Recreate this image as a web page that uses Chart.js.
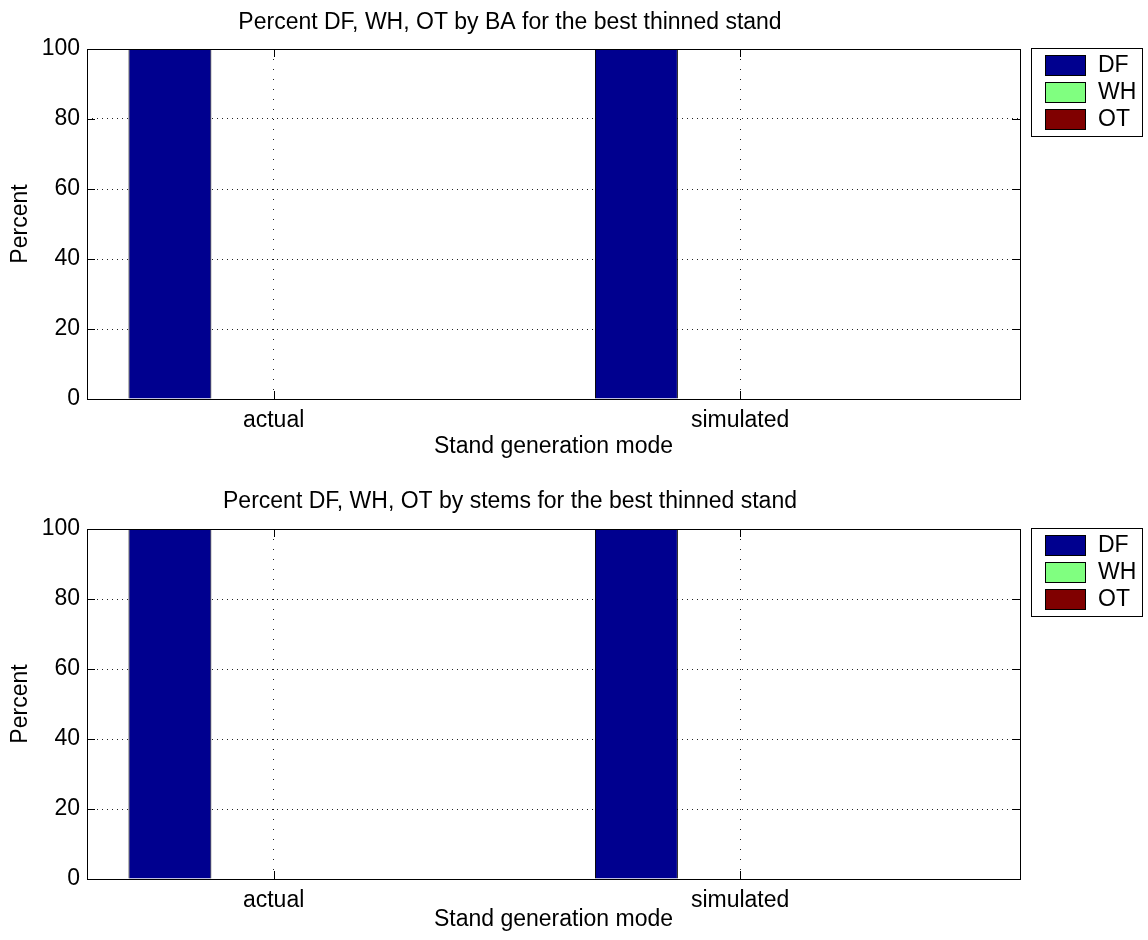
<!DOCTYPE html>
<html>
<head>
<meta charset="utf-8">
<script src="https://cdn.jsdelivr.net/npm/chart.js@4.4.0/dist/chart.umd.min.js"></script>
<style>
  html, body { margin: 0; padding: 0; background: #fff; overflow: hidden; }
  canvas { position: absolute; left: 0; }
  #chartBA { top: 0; }
  #chartStems { top: 470px; }
</style>
</head>
<body>
<canvas id="chartBA" width="1148" height="470"></canvas>
<canvas id="chartStems" width="1148" height="470"></canvas>
<script>
const categories = ['actual', 'simulated'];
const categoryX = [1, 2];
const species = ['DF', 'WH', 'OT'];
const baDF = [100, 100];
const baWH = [0, 0];
const baOT = [0, 0];
const stemsDF = [100, 100];
const stemsWH = [0, 0];
const stemsOT = [0, 0];
const yTicks = [0, 20, 40, 60, 80, 100];

const colors = ['#00008f', '#80ff80', '#800000'];
const fontFamily = '"Liberation Sans", Arial, Helvetica, sans-serif';
const fontSize = 23;

function points(values) {
  return values.map((v, i) => ({x: categoryX[i], y: v}));
}

// matlab look: box around the axes, ticks pointing inwards, boxed legend on the right
const matlabFrame = {
  id: 'matlabFrame',
  afterDatasetsDraw(chart) {
    const {ctx, chartArea: a, scales} = chart;
    ctx.save();
    ctx.strokeStyle = '#000';
    ctx.lineWidth = 1;
    ctx.setLineDash([]);
    ctx.beginPath();
    yTicks.forEach(t => {
      const y = Math.round(scales.y.getPixelForValue(t)) + 0.5;
      ctx.moveTo(a.left, y); ctx.lineTo(a.left + 8, y);
      ctx.moveTo(a.right, y); ctx.lineTo(a.right - 8, y);
    });
    categoryX.forEach(v => {
      const x = Math.round(scales.x.getPixelForValue(v)) + 0.5;
      ctx.moveTo(x, a.bottom); ctx.lineTo(x, a.bottom - 8);
      ctx.moveTo(x, a.top); ctx.lineTo(x, a.top + 8);
    });
    ctx.stroke();
    ctx.strokeRect(Math.round(a.left) + 0.5, Math.round(a.top) + 0.5,
      Math.round(a.right - a.left), Math.round(a.bottom - a.top));
    ctx.restore();
  },
  afterDraw(chart) {
    const {ctx, chartArea: a} = chart;
    const bx = Math.round(a.right) + 11, by = Math.round(a.top) - 1;
    ctx.save();
    ctx.fillStyle = '#fff';
    ctx.fillRect(bx, by, 111, 88);
    ctx.strokeStyle = '#000';
    ctx.lineWidth = 1;
    ctx.strokeRect(bx + 0.5, by + 0.5, 111, 88);
    ctx.font = fontSize + 'px ' + fontFamily;
    ctx.textBaseline = 'middle';
    chart.data.datasets.forEach((ds, i) => {
      const sy = by + 7 + i * 27;
      ctx.fillStyle = ds.backgroundColor;
      ctx.fillRect(bx + 14, sy, 40, 20);
      ctx.strokeRect(bx + 14.5, sy + 0.5, 40, 20);
      ctx.fillStyle = '#000';
      ctx.fillText(ds.label, bx + 67, sy + 11);
    });
    ctx.restore();
  }
};

function makeChart(id, title, df, wh, ot, pad) {
  const tickFont = {family: fontFamily, size: fontSize};
  return new Chart(document.getElementById(id), {
    type: 'bar',
    data: {
      datasets: [
        {label: species[0], data: points(df), backgroundColor: colors[0], borderColor: '#000', borderWidth: 1},
        {label: species[1], data: points(wh), backgroundColor: colors[1], borderColor: '#000', borderWidth: 1},
        {label: species[2], data: points(ot), backgroundColor: colors[2], borderColor: '#000', borderWidth: 1}
      ]
    },
    options: {
      responsive: false,
      animation: false,
      devicePixelRatio: 1,
      categoryPercentage: 2 / 3,
      barPercentage: 0.8,
      layout: {padding: {left: 0, right: 128, top: 0, bottom: 0}},
      plugins: {
        legend: {display: false},
        tooltip: {enabled: false},
        title: {
          display: true,
          text: title,
          color: '#000',
          font: {family: fontFamily, size: fontSize, weight: 'normal'},
          padding: {top: pad.titleTop, bottom: pad.titleBottom}
        }
      },
      scales: {
        x: {
          type: 'linear',
          min: 0.6,
          max: 2.6,
          offset: false,
          afterBuildTicks: s => { s.ticks = categoryX.map(v => ({value: v})); },
          afterFit: s => { s.height = pad.xHeight; },
          ticks: {
            callback: v => categories[categoryX.indexOf(v)],
            color: '#000', font: tickFont, padding: 8, maxRotation: 0, autoSkip: false
          },
          grid: {color: '#222', lineWidth: 1, drawTicks: false, offset: false},
          border: {display: false, dash: [1, 9]},
          title: {
            display: true, text: 'Stand generation mode', color: '#000',
            font: {family: fontFamily, size: fontSize, lineHeight: 1},
            padding: {top: 0, bottom: pad.xTitle}
          }
        },
        y: {
          min: 0,
          max: 100,
          afterBuildTicks: s => { s.ticks = yTicks.map(v => ({value: v})); },
          afterFit: s => { s.width = 87; },
          ticks: {color: '#000', font: tickFont, padding: 7},
          grid: {color: '#222', lineWidth: 1, drawTicks: false},
          border: {display: false, dash: [1, 4]},
          title: {
            display: true, text: 'Percent', color: '#000',
            font: {family: fontFamily, size: fontSize, lineHeight: 1},
            padding: {top: 9.5, bottom: 0}
          }
        }
      }
    },
    plugins: [matlabFrame]
  });
}

makeChart('chartBA', 'Percent DF, WH, OT by BA for the best thinned stand',
  baDF, baWH, baOT, {titleTop: 9.2, titleBottom: 12.2, xHeight: 71, xTitle: 11.5});
makeChart('chartStems', 'Percent DF, WH, OT by stems for the best thinned stand',
  stemsDF, stemsWH, stemsOT, {titleTop: 17.7, titleBottom: 13.7, xHeight: 61, xTitle: 9});
</script>
</body>
</html>
